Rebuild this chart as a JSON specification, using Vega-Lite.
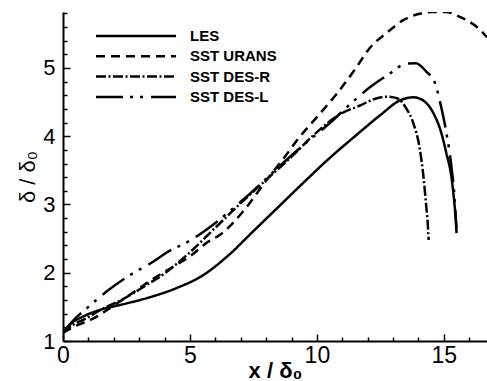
{
  "$schema": "https://vega.github.io/schema/vega-lite/v6.json",
  "width": 424,
  "height": 329,
  "autosize": {"type": "none"},
  "padding": {"left": 63, "top": 12, "right": 0, "bottom": 40},
  "background": "white",
  "config": {"view": {"stroke": null}, "font": "Liberation Sans"},
  "data": {"values": [
    {"s": "LES", "x": 0, "y": 1.12},
    {"s": "LES", "x": 0.3, "y": 1.25},
    {"s": "LES", "x": 0.8, "y": 1.36},
    {"s": "LES", "x": 1.5, "y": 1.46},
    {"s": "LES", "x": 2.5, "y": 1.55},
    {"s": "LES", "x": 3.5, "y": 1.65},
    {"s": "LES", "x": 4.5, "y": 1.78},
    {"s": "LES", "x": 5.5, "y": 1.96},
    {"s": "LES", "x": 6.5, "y": 2.25},
    {"s": "LES", "x": 7.5, "y": 2.61},
    {"s": "LES", "x": 8.5, "y": 2.97},
    {"s": "LES", "x": 9.5, "y": 3.33},
    {"s": "LES", "x": 10.5, "y": 3.68},
    {"s": "LES", "x": 11.5, "y": 4.0},
    {"s": "LES", "x": 12.5, "y": 4.31},
    {"s": "LES", "x": 13.3, "y": 4.53},
    {"s": "LES", "x": 13.8, "y": 4.57},
    {"s": "LES", "x": 14.2, "y": 4.52},
    {"s": "LES", "x": 14.6, "y": 4.33},
    {"s": "LES", "x": 14.9, "y": 4.05},
    {"s": "LES", "x": 15.1, "y": 3.75},
    {"s": "LES", "x": 15.3, "y": 3.40},
    {"s": "LES", "x": 15.42, "y": 3.0},
    {"s": "LES", "x": 15.5, "y": 2.65},
    {"s": "SST URANS", "x": 0, "y": 1.12},
    {"s": "SST URANS", "x": 0.5, "y": 1.22},
    {"s": "SST URANS", "x": 1.2, "y": 1.33},
    {"s": "SST URANS", "x": 2, "y": 1.52},
    {"s": "SST URANS", "x": 2.8, "y": 1.72},
    {"s": "SST URANS", "x": 3.5, "y": 1.9},
    {"s": "SST URANS", "x": 4.3, "y": 2.08},
    {"s": "SST URANS", "x": 5, "y": 2.24},
    {"s": "SST URANS", "x": 5.7, "y": 2.45},
    {"s": "SST URANS", "x": 6.2, "y": 2.56},
    {"s": "SST URANS", "x": 7.1, "y": 2.9},
    {"s": "SST URANS", "x": 8, "y": 3.35},
    {"s": "SST URANS", "x": 8.7, "y": 3.68},
    {"s": "SST URANS", "x": 9.3, "y": 3.98},
    {"s": "SST URANS", "x": 10, "y": 4.28},
    {"s": "SST URANS", "x": 10.8, "y": 4.63},
    {"s": "SST URANS", "x": 11.5, "y": 4.98},
    {"s": "SST URANS", "x": 12.1, "y": 5.3},
    {"s": "SST URANS", "x": 12.8, "y": 5.53},
    {"s": "SST URANS", "x": 13.4, "y": 5.7},
    {"s": "SST URANS", "x": 14, "y": 5.79},
    {"s": "SST URANS", "x": 14.5, "y": 5.82},
    {"s": "SST URANS", "x": 15.1, "y": 5.82},
    {"s": "SST URANS", "x": 15.5, "y": 5.77},
    {"s": "SST URANS", "x": 15.9, "y": 5.7},
    {"s": "SST URANS", "x": 16.3, "y": 5.6},
    {"s": "SST URANS", "x": 16.7, "y": 5.45},
    {"s": "SST DES-R", "x": 0, "y": 1.12},
    {"s": "SST DES-R", "x": 0.4, "y": 1.24},
    {"s": "SST DES-R", "x": 0.9, "y": 1.33},
    {"s": "SST DES-R", "x": 1.5, "y": 1.46},
    {"s": "SST DES-R", "x": 2.4, "y": 1.62},
    {"s": "SST DES-R", "x": 3.2, "y": 1.8},
    {"s": "SST DES-R", "x": 4.0, "y": 1.99},
    {"s": "SST DES-R", "x": 5.0, "y": 2.3},
    {"s": "SST DES-R", "x": 6.0, "y": 2.66},
    {"s": "SST DES-R", "x": 7.0, "y": 3.02},
    {"s": "SST DES-R", "x": 8.0, "y": 3.36},
    {"s": "SST DES-R", "x": 9.0, "y": 3.7},
    {"s": "SST DES-R", "x": 10.0, "y": 4.06},
    {"s": "SST DES-R", "x": 10.9, "y": 4.32},
    {"s": "SST DES-R", "x": 11.7, "y": 4.45},
    {"s": "SST DES-R", "x": 12.3, "y": 4.55},
    {"s": "SST DES-R", "x": 12.8, "y": 4.58},
    {"s": "SST DES-R", "x": 13.2, "y": 4.55},
    {"s": "SST DES-R", "x": 13.5, "y": 4.42},
    {"s": "SST DES-R", "x": 13.8, "y": 4.19},
    {"s": "SST DES-R", "x": 14.05, "y": 3.82},
    {"s": "SST DES-R", "x": 14.2, "y": 3.4},
    {"s": "SST DES-R", "x": 14.3, "y": 3.0},
    {"s": "SST DES-R", "x": 14.37, "y": 2.7},
    {"s": "SST DES-R", "x": 14.4, "y": 2.48},
    {"s": "SST DES-L", "x": 0, "y": 1.12},
    {"s": "SST DES-L", "x": 0.4, "y": 1.3},
    {"s": "SST DES-L", "x": 1.0, "y": 1.5},
    {"s": "SST DES-L", "x": 1.7, "y": 1.72},
    {"s": "SST DES-L", "x": 2.7, "y": 1.98},
    {"s": "SST DES-L", "x": 3.5, "y": 2.15},
    {"s": "SST DES-L", "x": 4.1, "y": 2.3},
    {"s": "SST DES-L", "x": 5.0, "y": 2.47},
    {"s": "SST DES-L", "x": 6.0, "y": 2.73},
    {"s": "SST DES-L", "x": 7.0, "y": 3.04},
    {"s": "SST DES-L", "x": 7.4, "y": 3.17},
    {"s": "SST DES-L", "x": 8.5, "y": 3.55},
    {"s": "SST DES-L", "x": 9.5, "y": 3.88},
    {"s": "SST DES-L", "x": 10.5, "y": 4.19},
    {"s": "SST DES-L", "x": 11.4, "y": 4.5},
    {"s": "SST DES-L", "x": 12.1, "y": 4.72},
    {"s": "SST DES-L", "x": 12.8, "y": 4.9},
    {"s": "SST DES-L", "x": 13.5, "y": 5.06},
    {"s": "SST DES-L", "x": 13.9, "y": 5.07},
    {"s": "SST DES-L", "x": 14.3, "y": 4.95},
    {"s": "SST DES-L", "x": 14.65, "y": 4.78},
    {"s": "SST DES-L", "x": 14.9, "y": 4.42},
    {"s": "SST DES-L", "x": 15.1, "y": 4.05},
    {"s": "SST DES-L", "x": 15.3, "y": 3.55},
    {"s": "SST DES-L", "x": 15.43, "y": 3.06},
    {"s": "SST DES-L", "x": 15.5, "y": 2.58}
  ]},
  "mark": {"type": "line", "interpolate": "monotone", "strokeWidth": 2.5, "color": "black", "clip": true},
  "encoding": {
    "x": {
      "field": "x", "type": "quantitative",
      "scale": {"domain": [0, 16.7], "nice": false, "zero": false},
      "axis": {
        "title": "x / δ₀",
        "titleFont": "Liberation Sans", "titleFontSize": 22, "titleFontWeight": "bold", "titleColor": "black",
        "titlePadding": -10,
        "values": [0,1,2,3,4,5,6,7,8,9,10,11,12,13,14,15,16],
        "labelExpr": "datum.value % 5 === 0 ? format(datum.value, 'd') : ''",
        "labelFontSize": 23, "labelColor": "black", "labelFont": "Liberation Sans",
        "labelOverlap": false, "labelFlush": false,
        "labelPadding": 10,
        "tickSize": {"condition": {"test": "datum.value % 5 === 0", "value": -7}, "value": -4},
        "tickColor": "black", "tickWidth": 1.5,
        "domainColor": "black", "domainWidth": 2,
        "grid": false
      }
    },
    "y": {
      "field": "y", "type": "quantitative",
      "scale": {"domain": [1, 5.82], "nice": false, "zero": false},
      "axis": {
        "title": "δ / δ₀",
        "titleFont": "Liberation Sans", "titleFontSize": 22, "titleFontWeight": "normal", "titleColor": "black",
        "titlePadding": 3,
        "values": [1,1.2,1.4,1.6,1.8,2,2.2,2.4,2.6,2.8,3,3.2,3.4,3.6,3.8,4,4.2,4.4,4.6,4.8,5,5.2,5.4,5.6,5.8],
        "labelExpr": "datum.value % 1 === 0 ? format(datum.value, 'd') : ''",
        "labelFontSize": 22, "labelColor": "black", "labelFont": "Liberation Sans",
        "labelOverlap": false, "labelFlush": false,
        "labelPadding": 15,
        "tickSize": {"condition": {"test": "datum.value % 1 === 0", "value": -7}, "value": -4},
        "tickColor": "black", "tickWidth": 1.5,
        "domainColor": "black", "domainWidth": 2,
        "grid": false
      }
    },
    "strokeDash": {
      "field": "s", "type": "nominal",
      "scale": {
        "domain": ["LES", "SST URANS", "SST DES-R", "SST DES-L"],
        "range": [[1, 0], [9, 6], [10, 2.5, 2, 2.5], [27, 7, 3, 7, 3, 8]]
      },
      "legend": {
        "title": null,
        "orient": "none",
        "legendX": 31.5,
        "legendY": 14,
        "padding": 0,
        "symbolType": "stroke",
        "symbolSize": 6400,
        "symbolStrokeWidth": 2.5,
        "symbolStrokeColor": "black",
        "clipHeight": 20,
        "rowPadding": 0.3,
        "labelOffset": 12.5,
        "labelFont": "Liberation Sans",
        "labelFontSize": 15,
        "labelFontWeight": "bold",
        "labelColor": "black"
      }
    }
  }
}
